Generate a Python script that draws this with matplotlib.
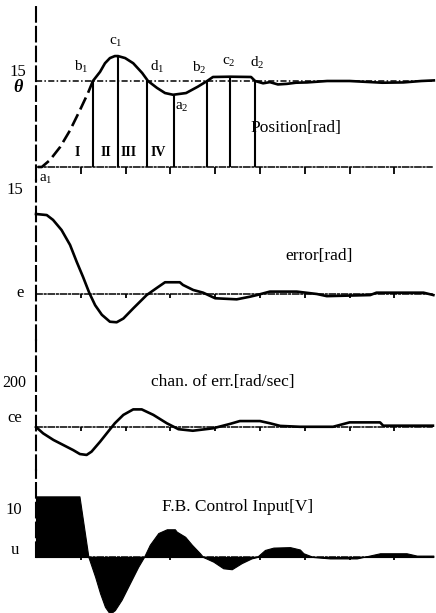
#step response of the fuzzy position controller: position, error,
#change of error and feedback control input on a common time axis

import matplotlib.pyplot as plt
import numpy as np

plt.rcParams['font.family'] = ['Liberation Serif', 'DejaVu Serif']
plt.rcParams['mathtext.fontset'] = 'custom'
plt.rcParams['mathtext.rm'] = 'Liberation Serif'
plt.rcParams['mathtext.it'] = 'Liberation Serif:italic'
plt.rcParams['mathtext.bf'] = 'Liberation Serif:bold'

W, H = 436, 613
plotName = 'out'

# time in tick divisions
t_ticks = [1, 2, 3, 4, 5, 6, 7, 8]
t_end = 8.85
setpoint = 15

# position [rad]; rising part (dashed) then the response
t_rise = [0.04, 0.13, 0.31, 0.54, 0.76, 0.98, 1.16, 1.27]
pos_rise = [0.0, 0.0, 1.2, 3.5, 6.4, 9.9, 12.9, 15.0]
t_pos = [1.27, 1.43, 1.54, 1.65, 1.76, 1.83, 1.99, 2.17, 2.37, 2.50, 2.70,
         2.88, 3.06, 3.35, 3.61, 3.82, 3.95, 4.33, 4.80, 4.89, 5.07, 5.22,
         5.40, 5.60, 5.80, 6.05, 6.50, 7.00, 7.73, 8.20, 8.60, 8.88]
pos = [15.0, 16.6, 18.1, 19.0, 19.35, 19.35, 19.0, 18.1, 16.4, 15.0, 13.8,
       12.9, 12.6, 12.9, 14.0, 15.0, 15.7, 15.75, 15.7, 15.0, 14.6, 14.8,
       14.4, 14.5, 14.7, 14.75, 15.0, 15.0, 14.7, 14.75, 15.0, 15.1]

# phase boundaries b1 c1 d1 a2 b2 c2 d2
t_marks = [1.27, 1.83, 2.48, 3.08, 3.81, 4.33, 4.89]
pos_marks = [15.0, 19.35, 15.0, 12.6, 15.0, 15.75, 15.0]

# error [rad]
t_err = [0.0, 0.24, 0.38, 0.57, 0.76, 0.91, 1.05, 1.19, 1.32, 1.47, 1.65,
         1.80, 1.95, 2.17, 2.47, 2.69, 2.88, 3.21, 3.28, 3.51, 3.73, 4.00,
         4.48, 4.78, 4.93, 5.22, 5.82, 6.27, 6.49, 7.46, 7.60, 8.65, 8.87]
err = [15.0, 14.8, 13.9, 12.0, 9.2, 6.0, 3.2, 0.2, -2.1, -3.9, -5.2,
       -5.3, -4.6, -2.7, -0.2, 1.1, 2.2, 2.2, 1.7, 0.75, 0.25, -0.8,
       -1.0, -0.5, -0.2, 0.45, 0.45, 0.0, -0.4, -0.2, 0.25, 0.25, -0.2]

# change of error [rad/sec]
t_ce = [0.0, 0.16, 0.39, 0.61, 0.83, 0.98, 1.13, 1.24, 1.43, 1.61, 1.76,
        1.95, 2.17, 2.36, 2.62, 2.92, 3.18, 3.50, 3.95, 4.33, 4.55, 5.00,
        5.22, 5.45, 5.89, 6.63, 7.00, 7.68, 7.75, 8.86]
ce = [0, -29, -59, -82, -105, -123, -127, -112, -67, -21, 17,
      55, 80, 80, 55, 17, -10, -17, -6, 14, 27, 27,
      17, 5, 1, 1, 21, 21, 6, 6]

# feedback control input [V]
t_u = [0.0, 0.97, 1.17, 1.32, 1.43, 1.54, 1.65, 1.76, 1.91, 2.10, 2.28,
       2.41, 2.54, 2.73, 2.92, 3.10, 3.14, 3.33, 3.48, 3.66, 3.73, 3.96,
       4.18, 4.37, 4.59, 4.81, 4.93, 5.11, 5.30, 5.67, 5.89, 5.97, 6.19,
       6.56, 7.16, 7.68, 8.27, 8.50, 8.87]
u = [12.9, 12.9, 0.0, -4.2, -7.7, -10.6, -12.1, -11.3, -9.1, -5.5, -2.1,
     0.0, 2.6, 5.1, 5.9, 5.9, 5.4, 4.3, 2.6, 0.8, 0.0, -1.0,
     -2.4, -2.6, -1.3, -0.3, 0.0, 1.5, 2.0, 2.1, 1.6, 0.8, 0.0,
     -0.3, -0.3, 0.8, 0.8, 0.3, 0.3]


fig = plt.figure(figsize=(W/100., H/100.), dpi=100)

xlim = (-36/44.8, 400/44.8)
#panel bands in pixels (top, bottom) and y limits
bands = [(0, 180), (180, 340), (340, 470), (470, 613)]
ylims = [(-2.27, 29.13), (-8.625, 21.375), (-195.5, 395.5), (-11.91, 18.51)]
vbounds = [(-2.27, 28.3), (-8.625, 21.375), (-195.5, 395.5), (0, 18.51)]
ticklen = [5, 3, 3, 2]

axes = []
for i in range(4):
    top, bot = bands[i]
    ax = fig.add_axes([0, 1-bot/float(H), 1, (bot-top)/float(H)])
    ax.set_xlim(xlim)
    ax.set_ylim(ylims[i])
    ax.patch.set_alpha(0)
    for s in ['top', 'right']:
        ax.spines[s].set_visible(False)
    ax.spines['left'].set_position(('data', 0))
    ax.spines['left'].set_bounds(*vbounds[i])
    ax.spines['left'].set_linestyle((0, (7, 2.5)))
    ax.spines['left'].set_linewidth(1.5)
    ax.spines['bottom'].set_position(('data', 0))
    ax.spines['bottom'].set_bounds(0, t_end)
    ax.spines['bottom'].set_linestyle((0, (4, 1.5, 1, 1.5)))
    ax.spines['bottom'].set_linewidth(1.1)
    ax.set_xticks(t_ticks)
    ax.set_yticks([])
    ax.tick_params(axis='x', direction='out', length=ticklen[i], width=1.3,
                   labelbottom=False)
    axes.append(ax)

ax1, ax2, ax3, ax4 = axes

#position
ax1.hlines(setpoint, 0, t_end, color='black', lw=1.1,
           linestyle=(0, (4, 1.5, 1, 1.5)))
ax1.plot(t_rise, pos_rise, color='black', lw=1.9, linestyle=(0, (5, 2)))
ax1.plot(t_pos, pos, color='black', lw=1.9)
ax1.vlines(t_marks, 0, pos_marks, color='black', lw=1.5)

#error, change of error
ax2.plot(t_err, err, color='black', lw=1.9)
ax3.plot(t_ce, ce, color='black', lw=1.9)

#control input
ax4.fill_between(t_u, u, 0, color='black', lw=0.8)


def label(x, y, s, **kw):
    kw.setdefault('ha', 'center')
    kw.setdefault('fontsize', 11)
    fig.text(x/float(W), 1-y/float(H), s, va='center', **kw)


label(18, 72, '15', fontsize=12)
label(18, 88, u'\u03b8', fontsize=13, style='italic', fontweight='bold')
label(81, 67, r'b$_1$')
label(116, 42, r'c$_1$')
label(157, 67, r'd$_1$')
label(199, 68, r'b$_2$')
label(182, 107, r'a$_2$')
label(229, 62, r'c$_2$')
label(257, 63, r'd$_2$')
label(46, 179, r'a$_1$')
for x, s in zip([77, 106, 129, 158], ['I', 'II', 'III', 'IV']):
    label(x, 153, s, fontsize=10, fontweight='bold')
label(296, 128, 'Position[rad]', fontsize=12.5)

label(15, 190, '15', fontsize=12)
label(20, 293, 'e', fontsize=12)
label(319, 256, 'error[rad]', fontsize=12.5)

label(26, 383, '200', ha='right', fontsize=11.5)
label(15, 418, 'ce', fontsize=12)
label(223, 382, 'chan. of err.[rad/sec]', fontsize=12.5)

label(14, 510, '10', fontsize=12)
label(15, 550, 'u', fontsize=12)
label(238, 507, 'F.B. Control Input[V]', fontsize=12.5)

fig.savefig(plotName+'.png', dpi=100)
